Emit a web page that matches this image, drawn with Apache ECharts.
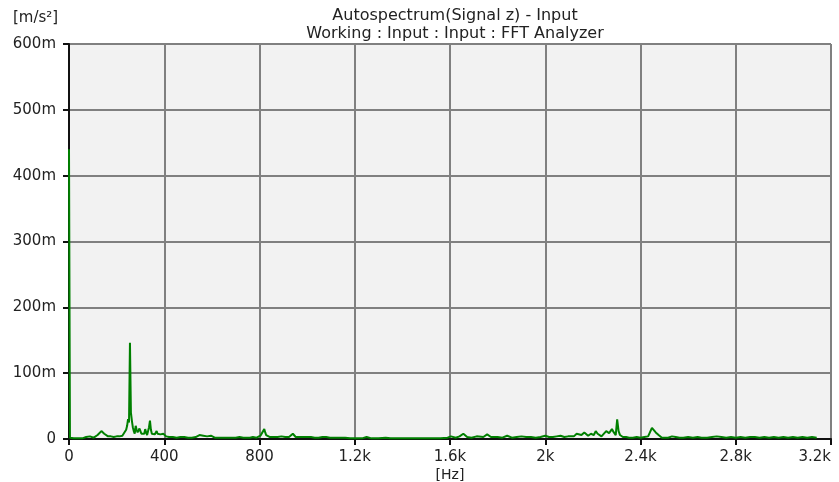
<!DOCTYPE html>
<html><head><meta charset="utf-8">
<script src="https://cdn.jsdelivr.net/npm/echarts@6/dist/echarts.min.js"></script>
<style>html,body{margin:0;padding:0;background:#fff}#c{width:839px;height:482px}</style>
</head><body><div id="c"></div>
<script>
var titleLines = ["Autospectrum(Signal z) - Input", "Working : Input : Input : FFT Analyzer"];
var yUnit = "[m/s²]";
var xName = "[Hz]";
var xTicks = [0, 400, 800, 1200, 1600, 2000, 2400, 2800, 3200];
var xTickLabels = ["0", "400", "800", "1.2k", "1.6k", "2k", "2.4k", "2.8k", "3.2k"];
var yTicks = [0, 100, 200, 300, 400, 500, 600];
var yTickLabels = ["0", "100m", "200m", "300m", "400m", "500m", "600m"];
// frequency (Hz) and autospectrum value (m m/s²)
var freqs = [0,4,20,40,56,60,64,72,80,88,96,104,112,120,128,136,140,144,148,156,164,176,188,200,212,224,232,240,244,248,252,256,260,264,268,272,276,280,284,288,292,296,300,304,308,312,316,320,324,328,332,336,340,344,348,352,356,360,364,368,372,376,380,384,388,392,396,400,404,408,412,416,420,428,436,444,452,460,468,476,484,492,500,508,516,524,532,540,548,556,564,572,580,588,596,604,612,620,628,640,652,664,676,688,700,708,716,724,732,740,748,760,772,780,788,796,804,812,820,824,828,836,844,852,860,868,876,884,892,900,908,916,924,932,940,944,952,960,968,976,984,992,1000,1008,1016,1024,1032,1040,1048,1056,1064,1072,1080,1088,1096,1104,1112,1120,1128,1136,1144,1152,1160,1168,1180,1196,1204,1212,1230,1250,1256,1270,1300,1330,1336,1350,1380,1410,1440,1470,1500,1530,1560,1590,1604,1612,1624,1640,1656,1664,1672,1690,1712,1720,1740,1756,1764,1772,1800,1820,1840,1848,1860,1880,1900,1908,1920,1940,1960,1980,2000,2004,2016,2032,2048,2064,2080,2096,2104,2120,2132,2140,2152,2164,2172,2180,2192,2204,2212,2220,2228,2236,2244,2256,2268,2280,2288,2296,2302,2308,2314,2320,2326,2332,2340,2352,2368,2384,2400,2416,2432,2448,2464,2476,2484,2490,2496,2504,2516,2532,2548,2564,2580,2600,2620,2640,2656,2664,2680,2700,2720,2740,2760,2780,2800,2820,2840,2860,2880,2900,2920,2940,2960,2980,3000,3020,3040,3060,3080,3100,3120,3140,3160,3180,3200];
var values = [440,2,1,1,1,3,2,3,2,4,3,2,3,6,8,12,14,11,8,6,4,4,3,4,4,5,8,14,20,30,25,146,40,28,18,12,8,20,14,10,8,16,12,8,10,6,8,15,10,6,8,18,28,14,8,6,9,7,5,12,8,6,5,7,5,10,8,6,5,4,6,4,3,5,3,4,2,4,3,2,3,4,2,3,2,5,3,4,6,4,5,3,4,2,5,3,2,3,2,2,2,2,2,2,2,5,3,2,2,3,2,2,3,2,2,3,5,8,15,10,6,4,3,4,3,2,3,2,4,3,3,2,3,5,8,5,3,2,3,4,3,2,3,2,3,4,2,3,2,2,3,2,3,2,2,3,2,3,2,1,2,1,2,1,1,1,3,1,1,3,1,1,1,2,1,1,1,1,1,1,1,1,1,2,4,3,2,4,8,5,3,2,4,3,3,7,4,3,3,2,5,3,2,3,4,2,3,3,2,3,5,4,3,3,4,5,3,4,6,4,8,5,6,10,7,5,8,6,12,8,5,4,6,12,9,15,10,6,30,12,6,4,3,3,3,2,2,3,2,3,4,17,10,6,3,2,3,2,2,4,3,2,2,3,2,3,2,3,2,3,4,3,2,3,2,3,2,3,3,2,3,2,3,2,3,2,3,2,3,2,3,2];

var data = freqs.map(function(f, i){ return [f, values[i]]; });
var chart = echarts.init(document.getElementById('c'), null, {renderer:'canvas'});
var fontFam = '"DejaVu Sans", Verdana, sans-serif';
var txtColor = '#222222';
chart.setOption({
  animation: false,
  backgroundColor: '#ffffff',
  title: [{
    text: titleLines.join('\n'), left: 450, top: 2, textAlign: 'center',
    textStyle: {fontFamily: fontFam, fontSize: 16, fontWeight: 'normal', color: txtColor, lineHeight: 18}
  }, {
    text: yUnit, left: 8, top: 6,
    textStyle: {fontFamily: fontFam, fontSize: 15, fontWeight: 'normal', color: txtColor}
  }],
  grid: {left: 69, right: 8, top: 44, bottom: 43, show: true, backgroundColor: '#f2f2f2', borderWidth: 0, outerBoundsMode: 'none', containLabel: false},
  xAxis: {
    type: 'value', min: 0, max: 3200, interval: 400,
    name: xName, nameLocation: 'middle', nameGap: 29, nameMoveOverlap: false,
    nameTextStyle: {fontFamily: fontFam, fontSize: 14, color: txtColor, lineHeight: 14, verticalAlign: 'top'},
    axisLine: {show: true, onZero: false, lineStyle: {color: '#111', width: 2}},
    axisTick: {show: true, length: 6, lineStyle: {color: '#111', width: 2}},
    axisLabel: {fontFamily: fontFam, fontSize: 15, color: txtColor, margin: 11, alignMaxLabel: 'right',
      formatter: function(v){ var i = xTicks.indexOf(v); return i >= 0 ? xTickLabels[i] : ''; }},
    splitLine: {show: true, lineStyle: {color: '#808080', width: 2}}
  },
  yAxis: {
    type: 'value', min: 0, max: 600, interval: 100,
    axisLine: {show: true, lineStyle: {color: '#111', width: 2}},
    axisTick: {show: true, length: 6, lineStyle: {color: '#111', width: 2}},
    axisLabel: {fontFamily: fontFam, fontSize: 15, color: txtColor, margin: 13,
      formatter: function(v){ var i = yTicks.indexOf(v); return i >= 0 ? yTickLabels[i] : ''; }},
    splitLine: {show: true, lineStyle: {color: '#808080', width: 2}}
  },
  series: [{
    type: 'line', data: data, showSymbol: false, symbol: 'none',
    lineStyle: {color: '#008000', width: 2}, clip: true
  }]
});
</script></body></html>
